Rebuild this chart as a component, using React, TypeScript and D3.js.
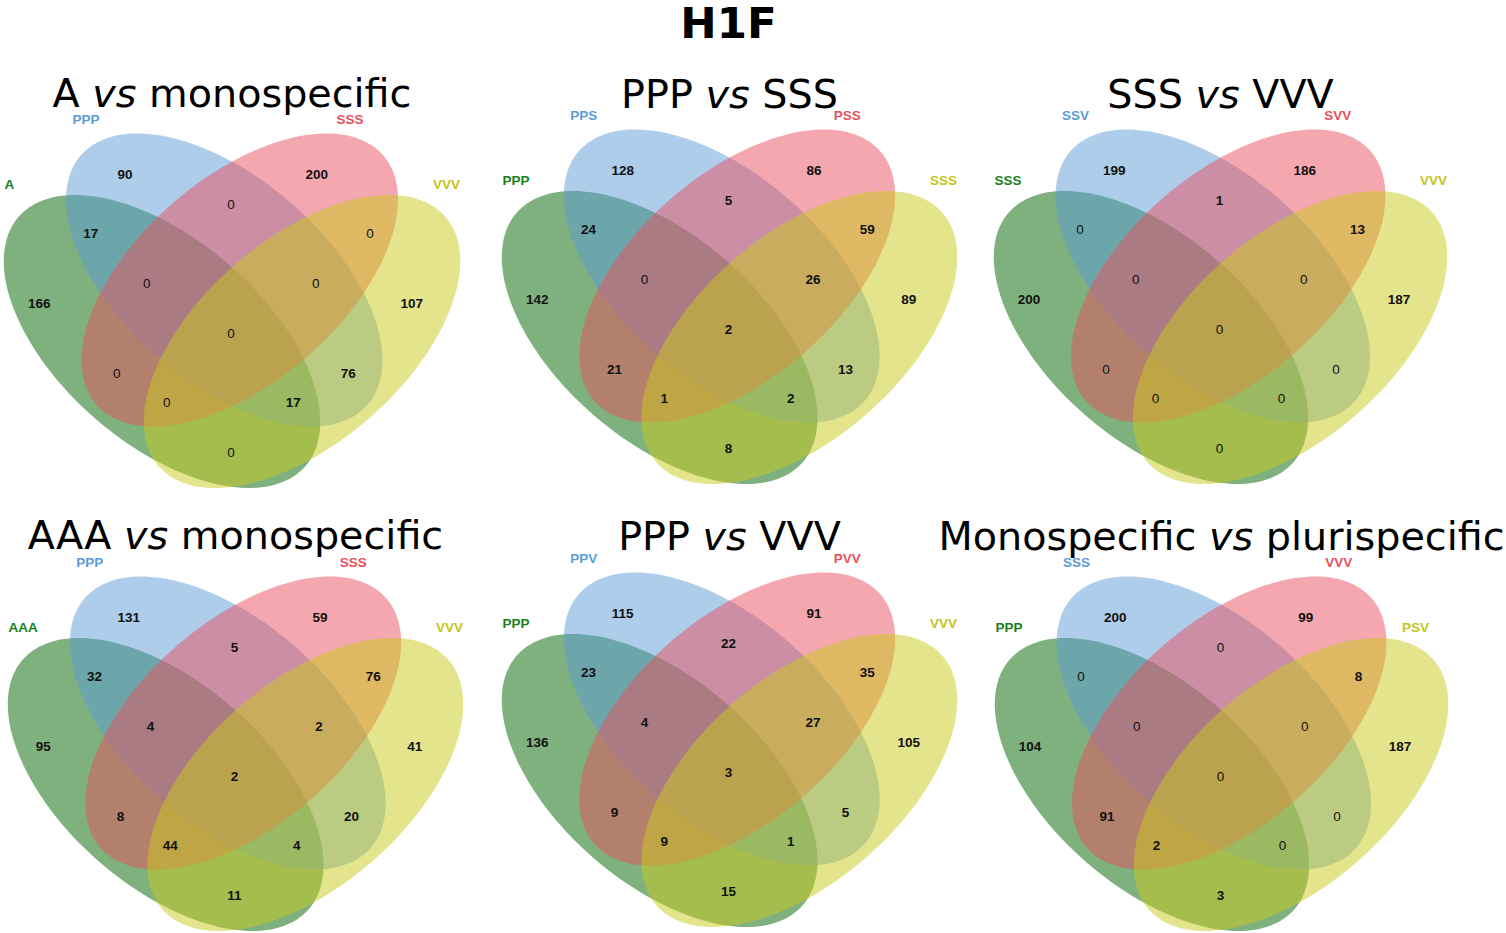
import React from "react";
import * as d3 from "d3";

// ---------- data ----------
const mainTitle = "H1F";

// region order for every panel
const regionKeys = ["B", "R", "BR", "GB", "RY", "G", "Y", "GBR", "BRY", "GBRY", "GR", "BY", "GRY", "GBY", "GY"];

const panelTitles: [string, string][] = [
  ["A", "monospecific"],
  ["PPP", "SSS"],
  ["SSS", "VVV"],
  ["AAA", "monospecific"],
  ["PPP", "VVV"],
  ["Monospecific", "plurispecific"],
];

// set names: [green, blue, red, yellow]
const setNames1 = ["A", "PPP", "SSS", "VVV"];
const setNames2 = ["PPP", "PPS", "PSS", "SSS"];
const setNames3 = ["SSS", "SSV", "SVV", "VVV"];
const setNames4 = ["AAA", "PPP", "SSS", "VVV"];
const setNames5 = ["PPP", "PPV", "PVV", "VVV"];
const setNames6 = ["PPP", "SSS", "VVV", "PSV"];
const setNames = [setNames1, setNames2, setNames3, setNames4, setNames5, setNames6];

// values in regionKeys order
const counts1 = [90, 200, 0, 17, 0, 166, 107, 0, 0, 0, 0, 76, 0, 17, 0];
const counts2 = [128, 86, 5, 24, 59, 142, 89, 0, 26, 2, 21, 13, 1, 2, 8];
const counts3 = [199, 186, 1, 0, 13, 200, 187, 0, 0, 0, 0, 0, 0, 0, 0];
const counts4 = [131, 59, 5, 32, 76, 95, 41, 4, 2, 2, 8, 20, 44, 4, 11];
const counts5 = [115, 91, 22, 23, 35, 136, 105, 4, 27, 3, 9, 5, 9, 1, 15];
const counts6 = [200, 99, 0, 0, 8, 104, 187, 0, 0, 0, 91, 0, 2, 0, 3];
const counts = [counts1, counts2, counts3, counts4, counts5, counts6];

// ---------- layout (local frame 456 x 354) ----------
const FW = 456;
const FH = 354;
const panelBoxes = [
  { left: 4, top: 134, w: 456, h: 354, yellowEnd: 456 },
  { left: 502, top: 130, w: 455, h: 354, yellowEnd: 456 },
  { left: 994, top: 130, w: 453, h: 354, yellowEnd: 456 },
  { left: 8, top: 577, w: 455, h: 354, yellowEnd: 456 },
  { left: 502, top: 573, w: 455, h: 354, yellowEnd: 456 },
  { left: 995, top: 577, w: 453, h: 354, yellowEnd: 437 },
];
const titleBaselines = [107, 108, 108, 549, 550, 550];

const ROT = (41 * Math.PI) / 180;
const ellipses = [
  { key: "G", cx: 158, cy: 207.5, a: 190, b: 102, dir: 1, fill: "#006400" },
  { key: "B", cx: 220.25, cy: 146, a: 190, b: 102, dir: 1, fill: "#5b9bd5" },
  { key: "R", cx: 235.75, cy: 146, a: 190, b: 102, dir: -1, fill: "#e94f5d" },
  { key: "Y", cx: 298, cy: 207.5, a: 190, b: 102, dir: -1, fill: "#c9c919" },
];
const labelColors = ["#1a7f1a", "#5b9bd5", "#e94f5d", "#c4c420"];

const regionPos: Record<string, [number, number]> = {
  B: [121, 40.3],
  R: [312.7, 40.3],
  BR: [227, 70.3],
  GB: [86.7, 99.3],
  RY: [366, 99.3],
  G: [35.3, 169.3],
  Y: [407.7, 169.3],
  GBR: [142.7, 148.7],
  BRY: [311.7, 148.7],
  GBRY: [227, 198.7],
  GR: [112.7, 238.7],
  BY: [344.3, 238.7],
  GRY: [162.7, 267.7],
  GBY: [289.3, 267.7],
  GY: [227, 317.7],
};

const tSteps = d3.range(0, 180);

function ellipsePoints(e: typeof ellipses[number]): [number, number][] {
  const c = Math.cos(ROT);
  const s = Math.sin(ROT) * e.dir;
  return tSteps.map((i) => {
    const t = (i / tSteps.length) * Math.PI * 2;
    const u = e.a * Math.cos(t);
    const v = e.b * Math.sin(t);
    return [e.cx + u * c - v * s, e.cy + u * s + v * c];
  });
}

const numFont = "'Liberation Sans', Arial, sans-serif";
const titleFont = "'DejaVu Sans', Verdana, sans-serif";

function Panel({ idx }: { idx: number }) {
  const box = panelBoxes[idx];
  const x = d3.scaleLinear().domain([0, FW]).range([box.left, box.left + box.w]);
  const y = d3.scaleLinear().domain([0, FH]).range([box.top, box.top + box.h]);
  const line = d3
    .line<[number, number]>()
    .x((d) => x(d[0]))
    .y((d) => y(d[1]))
    .curve(d3.curveLinearClosed);
  const names = setNames[idx];
  const vals = counts[idx];
  const [t1, t2] = panelTitles[idx];
  const cx = x(FW / 2);
  return (
    <g>
      <text
        x={cx}
        y={titleBaselines[idx]}
        textAnchor="middle"
        fontFamily={titleFont}
        fontSize={39.7}
        fill="#000"
      >
        {t1 + " "}
        <tspan fontStyle="italic">vs</tspan>
        {" " + t2}
      </text>
      {ellipses.map((e) => (
        <path key={e.key} d={line(ellipsePoints(e)) || ""} fill={e.fill} fillOpacity={0.5} stroke="none" />
      ))}
      {regionKeys.map((k, i) => {
        const p = regionPos[k];
        const v = vals[i];
        return (
          <text
            key={k}
            x={x(p[0])}
            y={y(p[1])}
            dy="0.36em"
            textAnchor="middle"
            fontFamily={numFont}
            fontSize={13.5}
            fontWeight={v === 0 ? "normal" : "bold"}
            fill="#111"
          >
            {v}
          </text>
        );
      })}
      <text x={x(82)} y={y(-14.5)} dy="0.36em" textAnchor="middle" fontFamily={numFont} fontSize={13.5} fontWeight="bold" fill={labelColors[1]}>
        {names[1]}
      </text>
      <text x={x(346)} y={y(-14.5)} dy="0.36em" textAnchor="middle" fontFamily={numFont} fontSize={13.5} fontWeight="bold" fill={labelColors[2]}>
        {names[2]}
      </text>
      <text x={x(0.5)} y={y(50)} dy="0.36em" textAnchor="start" fontFamily={numFont} fontSize={13.5} fontWeight="bold" fill={labelColors[0]}>
        {names[0]}
      </text>
      <text x={x(box.yellowEnd)} y={y(50)} dy="0.36em" textAnchor="end" fontFamily={numFont} fontSize={13.5} fontWeight="bold" fill={labelColors[3]}>
        {names[3]}
      </text>
    </g>
  );
}

export default function App() {
  return (
    <svg
      width={1506}
      height={933}
      style={{ position: "absolute", left: 0, top: 0, background: "#fff" }}
    >
      <rect x={0} y={0} width={1506} height={933} fill="#fff" />
      <text x={728.5} y={38} textAnchor="middle" fontFamily={titleFont} fontWeight="bold" fontSize={43.5} fill="#000">
        {mainTitle}
      </text>
      {panelTitles.map((_, i) => (
        <Panel key={i} idx={i} />
      ))}
    </svg>
  );
}
